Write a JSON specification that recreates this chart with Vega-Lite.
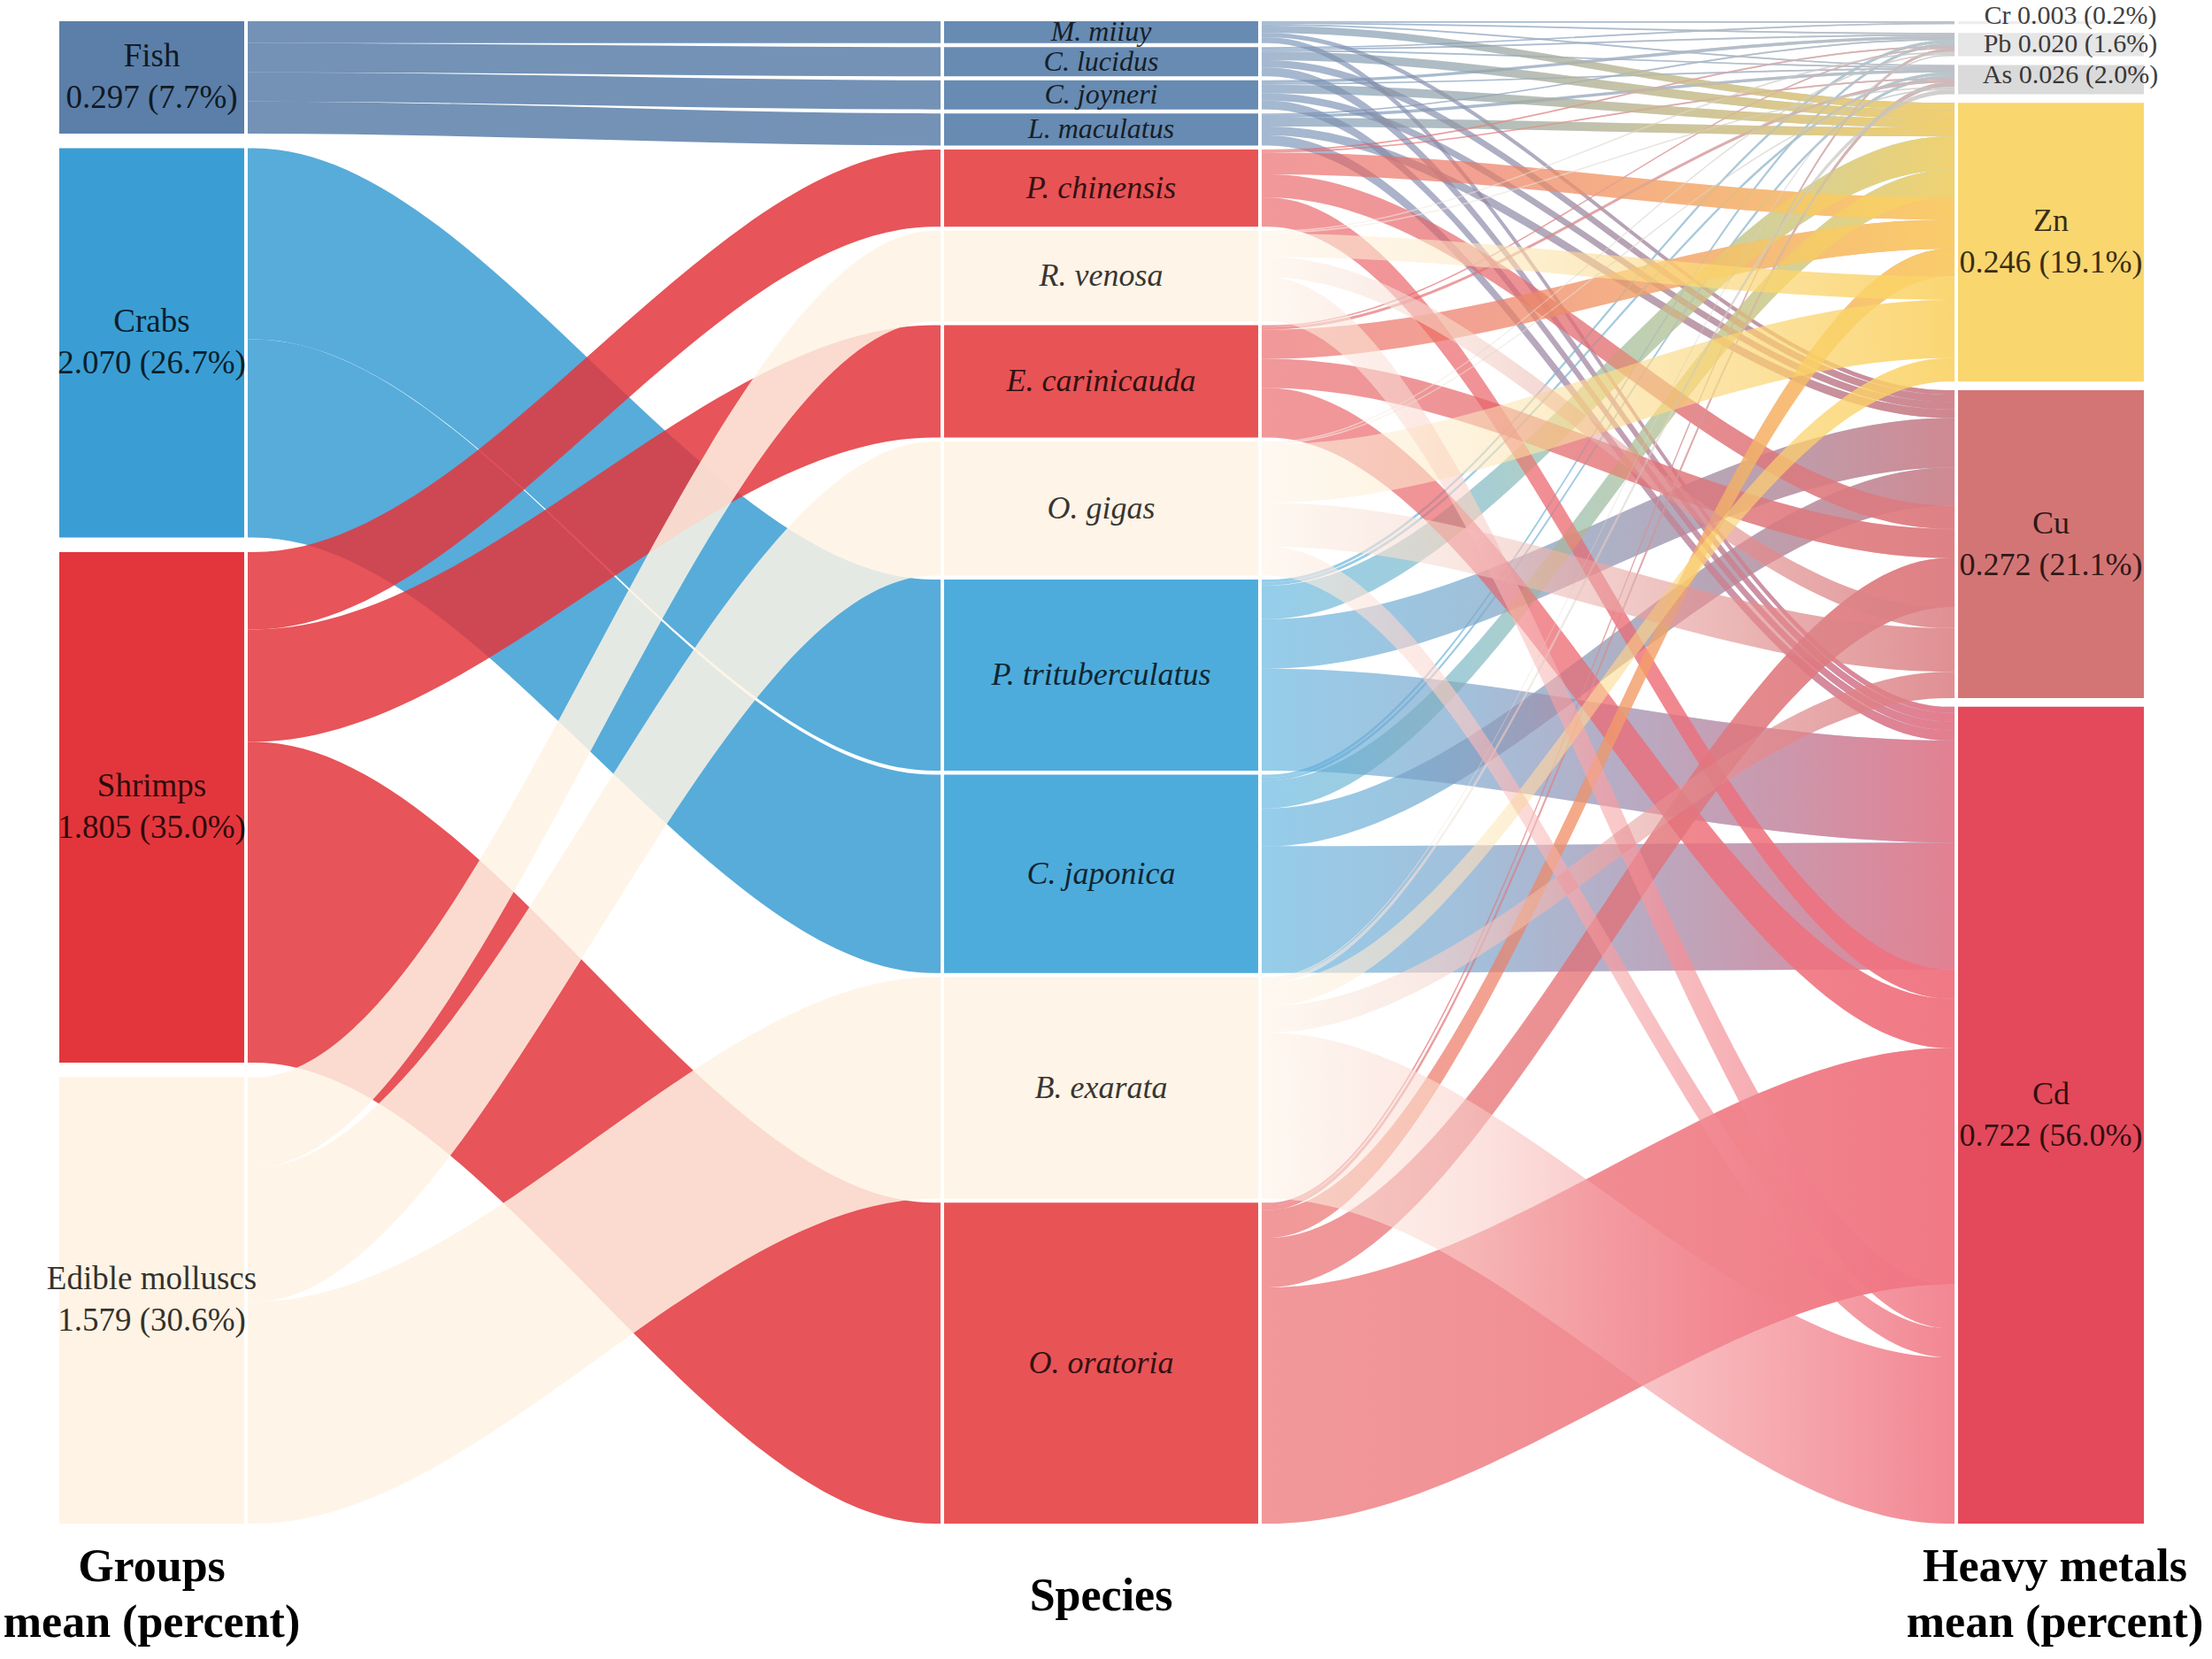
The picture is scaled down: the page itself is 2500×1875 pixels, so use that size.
{
  "$schema": "https://vega.github.io/schema/vega-lite/v6.json",
  "width": 2500,
  "height": 1875,
  "autosize": "none",
  "padding": 0,
  "background": "white",
  "config": {"view": {"stroke": null}},
  "datasets": {
    "groups": [
      {"group": "Fish", "gorder": 1, "mean": 0.297, "pct": 7.7},
      {"group": "Crabs", "gorder": 2, "mean": 2.070, "pct": 26.7},
      {"group": "Shrimps", "gorder": 3, "mean": 1.805, "pct": 35.0},
      {"group": "Edible molluscs", "gorder": 4, "mean": 1.579, "pct": 30.6}
    ],
    "species": [
      {"species": "M. miiuy", "group": "Fish", "sorder": 1},
      {"species": "C. lucidus", "group": "Fish", "sorder": 2},
      {"species": "C. joyneri", "group": "Fish", "sorder": 3},
      {"species": "L. maculatus", "group": "Fish", "sorder": 4},
      {"species": "P. chinensis", "group": "Shrimps", "sorder": 5},
      {"species": "R. venosa", "group": "Edible molluscs", "sorder": 6},
      {"species": "E. carinicauda", "group": "Shrimps", "sorder": 7},
      {"species": "O. gigas", "group": "Edible molluscs", "sorder": 8},
      {"species": "P. trituberculatus", "group": "Crabs", "sorder": 9},
      {"species": "C. japonica", "group": "Crabs", "sorder": 10},
      {"species": "B. exarata", "group": "Edible molluscs", "sorder": 11},
      {"species": "O. oratoria", "group": "Shrimps", "sorder": 12}
    ],
    "metals": [
      {"metal": "Cr", "morder": 1, "mean": 0.003, "pct": 0.2},
      {"metal": "Pb", "morder": 2, "mean": 0.020, "pct": 1.6},
      {"metal": "As", "morder": 3, "mean": 0.026, "pct": 2.0},
      {"metal": "Zn", "morder": 4, "mean": 0.246, "pct": 19.1},
      {"metal": "Cu", "morder": 5, "mean": 0.272, "pct": 21.1},
      {"metal": "Cd", "morder": 6, "mean": 0.722, "pct": 56.0}
    ],
    "flows": [
      {"species": "M. miiuy", "metal": "Cr", "share": 0.1},
      {"species": "M. miiuy", "metal": "Pb", "share": 0.1},
      {"species": "M. miiuy", "metal": "As", "share": 0.1},
      {"species": "M. miiuy", "metal": "Zn", "share": 0.5},
      {"species": "M. miiuy", "metal": "Cu", "share": 0.3},
      {"species": "M. miiuy", "metal": "Cd", "share": 0.4},
      {"species": "C. lucidus", "metal": "Cr", "share": 0.1},
      {"species": "C. lucidus", "metal": "Pb", "share": 0.1},
      {"species": "C. lucidus", "metal": "As", "share": 0.1},
      {"species": "C. lucidus", "metal": "Zn", "share": 0.6},
      {"species": "C. lucidus", "metal": "Cu", "share": 0.5},
      {"species": "C. lucidus", "metal": "Cd", "share": 0.6},
      {"species": "C. joyneri", "metal": "Pb", "share": 0.2},
      {"species": "C. joyneri", "metal": "As", "share": 0.1},
      {"species": "C. joyneri", "metal": "Zn", "share": 0.6},
      {"species": "C. joyneri", "metal": "Cu", "share": 0.5},
      {"species": "C. joyneri", "metal": "Cd", "share": 0.6},
      {"species": "L. maculatus", "metal": "Pb", "share": 0.1},
      {"species": "L. maculatus", "metal": "As", "share": 0.2},
      {"species": "L. maculatus", "metal": "Zn", "share": 0.6},
      {"species": "L. maculatus", "metal": "Cu", "share": 0.6},
      {"species": "L. maculatus", "metal": "Cd", "share": 0.7},
      {"species": "P. trituberculatus", "metal": "Pb", "share": 0.2},
      {"species": "P. trituberculatus", "metal": "As", "share": 0.2},
      {"species": "P. trituberculatus", "metal": "Zn", "share": 2.3},
      {"species": "P. trituberculatus", "metal": "Cu", "share": 3.4},
      {"species": "P. trituberculatus", "metal": "Cd", "share": 7.0},
      {"species": "C. japonica", "metal": "Pb", "share": 0.2},
      {"species": "C. japonica", "metal": "As", "share": 0.2},
      {"species": "C. japonica", "metal": "Zn", "share": 1.9},
      {"species": "C. japonica", "metal": "Cu", "share": 2.6},
      {"species": "C. japonica", "metal": "Cd", "share": 8.7},
      {"species": "P. chinensis", "metal": "Pb", "share": 0.1},
      {"species": "P. chinensis", "metal": "As", "share": 0.1},
      {"species": "P. chinensis", "metal": "Zn", "share": 1.5},
      {"species": "P. chinensis", "metal": "Cu", "share": 1.6},
      {"species": "P. chinensis", "metal": "Cd", "share": 2.0},
      {"species": "E. carinicauda", "metal": "Pb", "share": 0.1},
      {"species": "E. carinicauda", "metal": "As", "share": 0.2},
      {"species": "E. carinicauda", "metal": "Zn", "share": 2.0},
      {"species": "E. carinicauda", "metal": "Cu", "share": 2.0},
      {"species": "E. carinicauda", "metal": "Cd", "share": 3.4},
      {"species": "O. oratoria", "metal": "Pb", "share": 0.2},
      {"species": "O. oratoria", "metal": "As", "share": 0.3},
      {"species": "O. oratoria", "metal": "Zn", "share": 1.9},
      {"species": "O. oratoria", "metal": "Cu", "share": 3.4},
      {"species": "O. oratoria", "metal": "Cd", "share": 16.2},
      {"species": "R. venosa", "metal": "Pb", "share": 0.1},
      {"species": "R. venosa", "metal": "As", "share": 0.1},
      {"species": "R. venosa", "metal": "Zn", "share": 1.6},
      {"species": "R. venosa", "metal": "Cu", "share": 1.4},
      {"species": "R. venosa", "metal": "Cd", "share": 3.0},
      {"species": "O. gigas", "metal": "Pb", "share": 0.1},
      {"species": "O. gigas", "metal": "As", "share": 0.1},
      {"species": "O. gigas", "metal": "Zn", "share": 4.0},
      {"species": "O. gigas", "metal": "Cu", "share": 3.0},
      {"species": "O. gigas", "metal": "Cd", "share": 2.0},
      {"species": "B. exarata", "metal": "Pb", "share": 0.1},
      {"species": "B. exarata", "metal": "As", "share": 0.3},
      {"species": "B. exarata", "metal": "Zn", "share": 1.6},
      {"species": "B. exarata", "metal": "Cu", "share": 1.8},
      {"species": "B. exarata", "metal": "Cd", "share": 11.4}
    ]
  },
  "layer": [
    {
      "data": {"name": "flows"},
      "transform": [
        {"lookup": "species", "from": {"data": {"name": "species"}, "key": "species", "fields": ["group", "sorder"]}},
        {"lookup": "group", "from": {"data": {"name": "groups"}, "key": "group", "fields": ["gorder"]}},
        {"aggregate": [{"op": "sum", "field": "share", "as": "value"}], "groupby": ["species", "group", "sorder", "gorder"]},
        {"stack": "value", "groupby": [], "sort": [{"field": "gorder", "order": "ascending"}, {"field": "sorder", "order": "ascending"}], "as": ["sa", "sb"]},
        {"stack": "value", "groupby": [], "sort": [{"field": "sorder", "order": "ascending"}], "as": ["ta", "tb"]},
        {"fold": ["sa", "sb", "ta", "tb"], "as": ["pt", "pv"]},
        {"calculate": "datum.pt === 'sa' ? 11.2 : datum.pt === 'sb' ? 11.5 : datum.pt === 'ta' ? 42.22 : 42.52", "as": "px"},
        {"calculate": "(datum.pt === 'sa' || datum.pt === 'sb') ? datum.sa + (datum.gorder - 1) * 1.0 : datum.ta + (datum.sorder - 1) * 0.27273", "as": "ytop"},
        {"calculate": "(datum.pt === 'sa' || datum.pt === 'sb') ? datum.sb + (datum.gorder - 1) * 1.0 : datum.tb + (datum.sorder - 1) * 0.27273", "as": "ybot"}
      ],
      "mark": {"type": "area", "orient": "vertical", "interpolate": "monotone", "opacity": 0.85},
      "encoding": {
        "x": {"field": "px", "type": "quantitative", "scale": {"domain": [0, 100], "nice": false, "zero": false}, "axis": null},
        "y": {"field": "ytop", "type": "quantitative", "stack": null, "scale": {"domain": [-1.456, 112.28], "reverse": true, "nice": false, "zero": false}, "axis": null},
        "y2": {"field": "ybot"},
        "color": {"field": "group", "type": "nominal", "legend": null,
          "scale": {"domain": ["Fish", "Crabs", "Shrimps", "Edible molluscs", "M. miiuy", "C. lucidus", "C. joyneri", "L. maculatus", "P. chinensis", "R. venosa", "E. carinicauda", "O. gigas", "P. trituberculatus", "C. japonica", "B. exarata", "O. oratoria", "Cr", "Pb", "As", "Zn", "Cu", "Cd"],
                    "range": ["#5b7fa9", "#3a9ed4", "#e3363c", "#fef3e4", "#678bb2", "#678bb2", "#678bb2", "#678bb2", "#e85356", "#fef4e7", "#e85356", "#fef4e7", "#4eacdc", "#4eacdc", "#fef4e7", "#e85356", "#ededed", "#e6e6e6", "#dadada", "#fad66e", "#d47575", "#e3495b"]}},
        "detail": {"field": "species", "type": "nominal"}
      }
    },
    {
      "data": {"name": "flows"},
      "transform": [
        {"lookup": "species", "from": {"data": {"name": "species"}, "key": "species", "fields": ["group", "sorder"]}},
        {"lookup": "group", "from": {"data": {"name": "groups"}, "key": "group", "fields": ["gorder"]}},
        {"lookup": "metal", "from": {"data": {"name": "metals"}, "key": "metal", "fields": ["morder"]}},
        {"stack": "share", "groupby": [], "sort": [{"field": "sorder", "order": "ascending"}, {"field": "morder", "order": "ascending"}], "as": ["sa", "sb"]},
        {"stack": "share", "groupby": [], "sort": [{"field": "morder", "order": "ascending"}, {"field": "gorder", "order": "ascending"}, {"field": "sorder", "order": "ascending"}], "as": ["ta", "tb"]},
        {"fold": ["sa", "sb", "ta", "tb"], "as": ["pt", "pv"]},
        {"calculate": "datum.pt === 'sa' ? 57.04 : datum.pt === 'sb' ? 57.34 : datum.pt === 'ta' ? 88.06 : 88.36", "as": "px"},
        {"calculate": "(datum.pt === 'sa' || datum.pt === 'sb') ? datum.sa + (datum.sorder - 1) * 0.27273 : datum.ta + (datum.morder - 1) * 0.6", "as": "ytop"},
        {"calculate": "(datum.pt === 'sa' || datum.pt === 'sb') ? datum.sb + (datum.sorder - 1) * 0.27273 : datum.tb + (datum.morder - 1) * 0.6", "as": "ybot"}
      ],
      "encoding": {
        "x": {"field": "px", "type": "quantitative", "scale": {"domain": [0, 100], "nice": false, "zero": false}, "axis": null},
        "y": {"field": "ytop", "type": "quantitative", "stack": null, "scale": {"domain": [-1.456, 112.28], "reverse": true, "nice": false, "zero": false}, "axis": null},
        "y2": {"field": "ybot"},
        "detail": [{"field": "species", "type": "nominal"}, {"field": "metal", "type": "nominal"}]
      },
      "layer": [
        {
          "mark": {"type": "area", "orient": "vertical", "interpolate": "monotone", "opacity": 0.6},
          "encoding": {
            "color": {"field": "species", "type": "nominal", "legend": null,
              "scale": {"domain": ["Fish", "Crabs", "Shrimps", "Edible molluscs", "M. miiuy", "C. lucidus", "C. joyneri", "L. maculatus", "P. chinensis", "R. venosa", "E. carinicauda", "O. gigas", "P. trituberculatus", "C. japonica", "B. exarata", "O. oratoria", "Cr", "Pb", "As", "Zn", "Cu", "Cd"],
                        "range": ["#5b7fa9", "#3a9ed4", "#e3363c", "#fef3e4", "#678bb2", "#678bb2", "#678bb2", "#678bb2", "#e85356", "#fef4e7", "#e85356", "#fef4e7", "#4eacdc", "#4eacdc", "#fef4e7", "#e85356", "#ededed", "#e6e6e6", "#dadada", "#fad66e", "#d47575", "#e3495b"]}}
          }
        },
        {
          "mark": {"type": "area", "orient": "vertical", "interpolate": "monotone"},
          "encoding": {
            "fill": {
              "condition": [
                {"test": "datum.metal === 'Zn'", "value": {"gradient": "linear", "x1": 0, "y1": 0, "x2": 1, "y2": 0, "stops": [{"offset": 0, "color": "rgba(250,210,100,0)"}, {"offset": 0.3, "color": "rgba(250,210,100,0.15)"}, {"offset": 1, "color": "rgba(250,210,100,0.9)"}]}},
                {"test": "datum.metal === 'Cu'", "value": {"gradient": "linear", "x1": 0, "y1": 0, "x2": 1, "y2": 0, "stops": [{"offset": 0, "color": "rgba(218,125,130,0)"}, {"offset": 0.3, "color": "rgba(218,125,130,0.15)"}, {"offset": 1, "color": "rgba(218,125,130,0.85)"}]}},
                {"test": "datum.metal === 'Cd'", "value": {"gradient": "linear", "x1": 0, "y1": 0, "x2": 1, "y2": 0, "stops": [{"offset": 0, "color": "rgba(240,115,130,0)"}, {"offset": 0.3, "color": "rgba(240,115,130,0.15)"}, {"offset": 1, "color": "rgba(240,115,130,0.85)"}]}}
              ],
              "value": {"gradient": "linear", "x1": 0, "y1": 0, "x2": 1, "y2": 0, "stops": [{"offset": 0, "color": "rgba(195,195,195,0)"}, {"offset": 0.3, "color": "rgba(195,195,195,0.15)"}, {"offset": 1, "color": "rgba(195,195,195,0.8)"}]}
            }
          }
        }
      ]
    },
    {
      "data": {"name": "groups"},
      "transform": [
        {"stack": "pct", "groupby": [], "sort": [{"field": "gorder", "order": "ascending"}], "as": ["a", "b"]},
        {"calculate": "datum.a + (datum.gorder - 1) * 1.0", "as": "y0"},
        {"calculate": "datum.b + (datum.gorder - 1) * 1.0", "as": "y1"},
        {"calculate": "(datum.y0 + datum.y1) / 2", "as": "yc"},
        {"calculate": "[datum.group, format(datum.mean, '.3f') + ' (' + format(datum.pct, '.1f') + '%)']", "as": "lbl"}
      ],
      "layer": [
        {
          "mark": {"type": "rect"},
          "encoding": {
            "x": {"datum": 2.68, "type": "quantitative", "scale": {"domain": [0, 100], "nice": false, "zero": false}, "axis": null},
            "x2": {"datum": 11.04},
            "y": {"field": "y0", "type": "quantitative", "scale": {"domain": [-1.456, 112.28], "reverse": true, "nice": false, "zero": false}, "axis": null},
            "y2": {"field": "y1"},
            "color": {"field": "group", "type": "nominal", "legend": null,
              "scale": {"domain": ["Fish", "Crabs", "Shrimps", "Edible molluscs", "M. miiuy", "C. lucidus", "C. joyneri", "L. maculatus", "P. chinensis", "R. venosa", "E. carinicauda", "O. gigas", "P. trituberculatus", "C. japonica", "B. exarata", "O. oratoria", "Cr", "Pb", "As", "Zn", "Cu", "Cd"],
                        "range": ["#5b7fa9", "#3a9ed4", "#e3363c", "#fef3e4", "#678bb2", "#678bb2", "#678bb2", "#678bb2", "#e85356", "#fef4e7", "#e85356", "#fef4e7", "#4eacdc", "#4eacdc", "#fef4e7", "#e85356", "#ededed", "#e6e6e6", "#dadada", "#fad66e", "#d47575", "#e3495b"]}}
          }
        },
        {
          "mark": {"type": "text", "font": "Liberation Serif", "fontSize": 37, "fill": "#000000", "opacity": 0.8, "align": "center", "baseline": "middle", "lineHeight": 47, "dy": -23.5},
          "encoding": {
            "x": {"datum": 6.86, "type": "quantitative", "scale": {"domain": [0, 100], "nice": false, "zero": false}, "axis": null},
            "y": {"field": "yc", "type": "quantitative", "scale": {"domain": [-1.456, 112.28], "reverse": true, "nice": false, "zero": false}, "axis": null},
            "text": {"field": "lbl", "type": "nominal"}
          }
        }
      ]
    },
    {
      "data": {"name": "flows"},
      "transform": [
        {"lookup": "species", "from": {"data": {"name": "species"}, "key": "species", "fields": ["sorder"]}},
        {"aggregate": [{"op": "sum", "field": "share", "as": "value"}], "groupby": ["species", "sorder"]},
        {"stack": "value", "groupby": [], "sort": [{"field": "sorder", "order": "ascending"}], "as": ["a", "b"]},
        {"calculate": "datum.a + (datum.sorder - 1) * 0.27273", "as": "y0"},
        {"calculate": "datum.b + (datum.sorder - 1) * 0.27273", "as": "y1"},
        {"calculate": "(datum.y0 + datum.y1) / 2", "as": "yc"}
      ],
      "layer": [
        {
          "mark": {"type": "rect"},
          "encoding": {
            "x": {"datum": 42.68, "type": "quantitative", "scale": {"domain": [0, 100], "nice": false, "zero": false}, "axis": null},
            "x2": {"datum": 56.88},
            "y": {"field": "y0", "type": "quantitative", "scale": {"domain": [-1.456, 112.28], "reverse": true, "nice": false, "zero": false}, "axis": null},
            "y2": {"field": "y1"},
            "color": {"field": "species", "type": "nominal", "legend": null,
              "scale": {"domain": ["Fish", "Crabs", "Shrimps", "Edible molluscs", "M. miiuy", "C. lucidus", "C. joyneri", "L. maculatus", "P. chinensis", "R. venosa", "E. carinicauda", "O. gigas", "P. trituberculatus", "C. japonica", "B. exarata", "O. oratoria", "Cr", "Pb", "As", "Zn", "Cu", "Cd"],
                        "range": ["#5b7fa9", "#3a9ed4", "#e3363c", "#fef3e4", "#678bb2", "#678bb2", "#678bb2", "#678bb2", "#e85356", "#fef4e7", "#e85356", "#fef4e7", "#4eacdc", "#4eacdc", "#fef4e7", "#e85356", "#ededed", "#e6e6e6", "#dadada", "#fad66e", "#d47575", "#e3495b"]}}
          }
        },
        {
          "mark": {"type": "text", "font": "Liberation Serif", "fontStyle": "italic", "fill": "#000000", "opacity": 0.78, "align": "center", "baseline": "middle"},
          "encoding": {
            "x": {"datum": 49.78, "type": "quantitative", "scale": {"domain": [0, 100], "nice": false, "zero": false}, "axis": null},
            "y": {"field": "yc", "type": "quantitative", "scale": {"domain": [-1.456, 112.28], "reverse": true, "nice": false, "zero": false}, "axis": null},
            "size": {"condition": {"test": "datum.sorder <= 4", "value": 32}, "value": 36},
            "text": {"field": "species", "type": "nominal"}
          }
        }
      ]
    },
    {
      "data": {"name": "metals"},
      "transform": [
        {"stack": "pct", "groupby": [], "sort": [{"field": "morder", "order": "ascending"}], "as": ["a", "b"]},
        {"calculate": "datum.a + (datum.morder - 1) * 0.6", "as": "y0"},
        {"calculate": "datum.b + (datum.morder - 1) * 0.6", "as": "y1"},
        {"calculate": "(datum.y0 + datum.y1) / 2", "as": "yc"},
        {"calculate": "format(datum.mean, '.3f') + ' (' + format(datum.pct, '.1f') + '%)'", "as": "val"}
      ],
      "encoding": {
        "y": {"field": "yc", "type": "quantitative", "scale": {"domain": [-1.456, 112.28], "reverse": true, "nice": false, "zero": false}, "axis": null}
      },
      "layer": [
        {
          "mark": {"type": "rect"},
          "encoding": {
            "x": {"datum": 88.52, "type": "quantitative", "scale": {"domain": [0, 100], "nice": false, "zero": false}, "axis": null},
            "x2": {"datum": 96.92},
            "y": {"field": "y0", "type": "quantitative", "scale": {"domain": [-1.456, 112.28], "reverse": true, "nice": false, "zero": false}, "axis": null},
            "y2": {"field": "y1"},
            "color": {"field": "metal", "type": "nominal", "legend": null,
              "scale": {"domain": ["Fish", "Crabs", "Shrimps", "Edible molluscs", "M. miiuy", "C. lucidus", "C. joyneri", "L. maculatus", "P. chinensis", "R. venosa", "E. carinicauda", "O. gigas", "P. trituberculatus", "C. japonica", "B. exarata", "O. oratoria", "Cr", "Pb", "As", "Zn", "Cu", "Cd"],
                        "range": ["#5b7fa9", "#3a9ed4", "#e3363c", "#fef3e4", "#678bb2", "#678bb2", "#678bb2", "#678bb2", "#e85356", "#fef4e7", "#e85356", "#fef4e7", "#4eacdc", "#4eacdc", "#fef4e7", "#e85356", "#ededed", "#e6e6e6", "#dadada", "#fad66e", "#d47575", "#e3495b"]}}
          }
        },
        {
          "transform": [
            {"filter": "datum.morder >= 4"},
            {"calculate": "[datum.metal, datum.val]", "as": "lbl"}
          ],
          "mark": {"type": "text", "font": "Liberation Serif", "fontSize": 36, "fill": "#000000", "opacity": 0.78, "align": "center", "baseline": "middle", "lineHeight": 47, "dy": -23.5},
          "encoding": {
            "x": {"datum": 92.72, "type": "quantitative", "scale": {"domain": [0, 100], "nice": false, "zero": false}, "axis": null},
            "text": {"field": "lbl", "type": "nominal"}
          }
        },
        {
          "transform": [
            {"filter": "datum.metal === 'Cr'"},
            {"calculate": "datum.metal + ' ' + datum.val", "as": "lbl"}
          ],
          "mark": {"type": "text", "font": "Liberation Serif", "fontSize": 30, "fill": "#000000", "opacity": 0.75, "align": "center", "baseline": "middle", "dy": -8},
          "encoding": {
            "x": {"datum": 93.6, "type": "quantitative", "scale": {"domain": [0, 100], "nice": false, "zero": false}, "axis": null},
            "text": {"field": "lbl", "type": "nominal"}
          }
        },
        {
          "transform": [
            {"filter": "datum.metal === 'Pb'"},
            {"calculate": "datum.metal + ' ' + datum.val", "as": "lbl"}
          ],
          "mark": {"type": "text", "font": "Liberation Serif", "fontSize": 30, "fill": "#000000", "opacity": 0.75, "align": "center", "baseline": "middle", "dy": 0},
          "encoding": {
            "x": {"datum": 93.6, "type": "quantitative", "scale": {"domain": [0, 100], "nice": false, "zero": false}, "axis": null},
            "text": {"field": "lbl", "type": "nominal"}
          }
        },
        {
          "transform": [
            {"filter": "datum.metal === 'As'"},
            {"calculate": "datum.metal + ' ' + datum.val", "as": "lbl"}
          ],
          "mark": {"type": "text", "font": "Liberation Serif", "fontSize": 30, "fill": "#000000", "opacity": 0.75, "align": "center", "baseline": "middle", "dy": -5},
          "encoding": {
            "x": {"datum": 93.6, "type": "quantitative", "scale": {"domain": [0, 100], "nice": false, "zero": false}, "axis": null},
            "text": {"field": "lbl", "type": "nominal"}
          }
        }
      ]
    },
    {
      "data": {"values": [{"title": ["Groups", "mean (percent)"]}]},
      "mark": {"type": "text", "font": "Liberation Serif", "fontWeight": "bold", "fontSize": 52, "fill": "#000000", "align": "center", "baseline": "middle", "lineHeight": 63, "dy": -31.5},
      "encoding": {
        "x": {"datum": 6.86, "type": "quantitative", "scale": {"domain": [0, 100], "nice": false, "zero": false}, "axis": null},
        "y": {"datum": 107.9, "type": "quantitative", "scale": {"domain": [-1.456, 112.28], "reverse": true, "nice": false, "zero": false}, "axis": null},
        "text": {"field": "title", "type": "nominal"}
      }
    },
    {
      "data": {"values": [{"title": "Species"}]},
      "mark": {"type": "text", "font": "Liberation Serif", "fontWeight": "bold", "fontSize": 52, "fill": "#000000", "align": "center", "baseline": "middle"},
      "encoding": {
        "x": {"datum": 49.78, "type": "quantitative", "scale": {"domain": [0, 100], "nice": false, "zero": false}, "axis": null},
        "y": {"datum": 108.0, "type": "quantitative", "scale": {"domain": [-1.456, 112.28], "reverse": true, "nice": false, "zero": false}, "axis": null},
        "text": {"field": "title", "type": "nominal"}
      }
    },
    {
      "data": {"values": [{"title": ["Heavy metals", "mean (percent)"]}]},
      "mark": {"type": "text", "font": "Liberation Serif", "fontWeight": "bold", "fontSize": 52, "fill": "#000000", "align": "center", "baseline": "middle", "lineHeight": 63, "dy": -31.5},
      "encoding": {
        "x": {"datum": 92.9, "type": "quantitative", "scale": {"domain": [0, 100], "nice": false, "zero": false}, "axis": null},
        "y": {"datum": 107.9, "type": "quantitative", "scale": {"domain": [-1.456, 112.28], "reverse": true, "nice": false, "zero": false}, "axis": null},
        "text": {"field": "title", "type": "nominal"}
      }
    }
  ]
}
